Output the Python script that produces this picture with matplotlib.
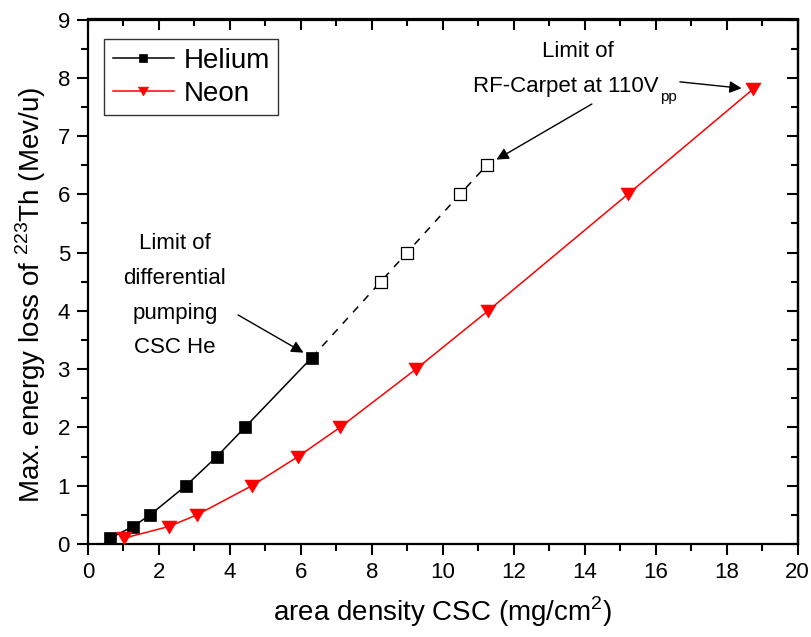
import matplotlib
matplotlib.use("Agg")
import matplotlib.pyplot as plt
from matplotlib.path import Path
from matplotlib.ticker import MultipleLocator

plt.rcParams['font.family'] = ['Liberation Sans', 'DejaVu Sans']
plt.rcParams['mathtext.fontset'] = 'custom'
plt.rcParams['mathtext.rm'] = 'Liberation Sans'

# Helium: measured (solid) and extrapolated (open, dashed)
he_x = [0.62, 1.27, 1.75, 2.76, 3.63, 4.42, 6.31]
he_y = [0.1, 0.3, 0.5, 1.0, 1.5, 2.0, 3.2]
he_ext_x = [8.25, 8.99, 10.48, 11.24]
he_ext_y = [4.5, 5.0, 6.0, 6.5]

# Neon
ne_x = [1.01, 2.28, 3.07, 4.62, 5.92, 7.10, 9.24, 11.27, 15.21, 18.73]
ne_y = [0.1, 0.3, 0.5, 1.0, 1.5, 2.0, 3.0, 4.0, 6.0, 7.8]

# slightly wide downward triangle
tri_down = Path([(-1.18, 1.0), (1.18, 1.0), (0.0, -1.0), (-1.18, 1.0)],
                [Path.MOVETO, Path.LINETO, Path.LINETO, Path.CLOSEPOLY])

fig = plt.figure(figsize=(8.12, 6.37), dpi=100)
ax = fig.add_axes([88/812, 1-544/637, (797.7-88)/812, (544-19.5)/637])

ax.plot(he_x, he_y, color='black', lw=1.1, marker='s', ms=9,
        mfc='black', mec='black', mew=0.5, label='Helium', zorder=3)
ax.plot([he_x[-1]] + he_ext_x, [he_y[-1]] + he_ext_y, color='black', lw=1.1,
        ls=(0, (5, 5)), zorder=2)
ax.plot(he_ext_x, he_ext_y, ls='none', marker='s', ms=8.2, mfc='white',
        mec='black', mew=0.9, zorder=3)
ax.plot(ne_x, ne_y, color='red', lw=1.1, marker=tri_down, ms=11,
        mfc='red', mec='red', mew=0.4, label='Neon', zorder=3)

ax.set_xlim(0, 20)
ax.set_ylim(0, 9)
ax.xaxis.set_major_locator(MultipleLocator(2))
ax.xaxis.set_minor_locator(MultipleLocator(1))
ax.yaxis.set_major_locator(MultipleLocator(1))
ax.yaxis.set_minor_locator(MultipleLocator(0.5))
ax.tick_params(which='major', direction='out', length=8, width=1.5,
               labelsize=16, pad=5)
ax.tick_params(which='minor', direction='out', length=4.8, width=1.5)
for s in ax.spines.values():
    s.set_linewidth(1.6)

# mirrored inward ticks on top and right
top = ax.secondary_xaxis('top')
top.xaxis.set_major_locator(MultipleLocator(2))
top.xaxis.set_minor_locator(MultipleLocator(1))
top.tick_params(which='major', direction='in', length=8, width=1.5, labeltop=False)
top.tick_params(which='minor', direction='in', length=4.8, width=1.5)
right = ax.secondary_yaxis('right')
right.yaxis.set_major_locator(MultipleLocator(1))
right.yaxis.set_minor_locator(MultipleLocator(0.5))
right.tick_params(which='major', direction='in', length=8, width=1.5, labelright=False)
right.tick_params(which='minor', direction='in', length=4.8, width=1.5)
for sa in (top, right):
    for s in sa.spines.values():
        s.set_linewidth(1.6)

ax.set_xlabel('area density CSC (mg/cm$^2$)', fontsize=20, labelpad=8)
ax.set_ylabel('Max. energy loss of $^{223}$Th (Mev/u)', fontsize=20, labelpad=7)
ax.yaxis.label.set_y(0.475)

leg = ax.legend(loc='upper left', bbox_to_anchor=(0.023, 0.962), fontsize=20,
                frameon=True, fancybox=False, edgecolor='black',
                handlelength=2.2, borderpad=0.3, labelspacing=0.25,
                handletextpad=0.36, borderaxespad=0, markerscale=0.68)
leg.get_frame().set_linewidth(1.0)

ax.text(2.45, 4.26, 'Limit of\ndifferential\npumping\nCSC He', ha='center',
        va='center', fontsize=16, linespacing=1.85)
ax.annotate('', xy=(he_x[-1], he_y[-1]), xytext=(4.23, 3.93),
            arrowprops=dict(arrowstyle='-|>', color='black', lw=1.0,
                            mutation_scale=18, shrinkA=0, shrinkB=7))

ax.text(13.8, 8.365, 'Limit of', ha='center', va='baseline', fontsize=16)
rf = ax.text(10.84, 7.753, 'RF-Carpet at 110V', ha='left', va='baseline',
             fontsize=16)
ax.annotate('pp', xy=(1.0, 0.0), xycoords=rf, xytext=(1, 0),
            textcoords='offset points', ha='left', va='center', fontsize=11)

ax.annotate('', xy=(ne_x[-1], ne_y[-1]), xytext=(16.68, 7.93),
            arrowprops=dict(arrowstyle='-|>', color='black', lw=1.0,
                            mutation_scale=18, shrinkB=8, shrinkA=0))
ax.annotate('', xy=(he_ext_x[-1], he_ext_y[-1]), xytext=(14.2, 7.55),
            arrowprops=dict(arrowstyle='-|>', color='black', lw=1.0,
                            mutation_scale=18, shrinkB=8, shrinkA=0))

fig.savefig('out.png', dpi=100, facecolor='white')
